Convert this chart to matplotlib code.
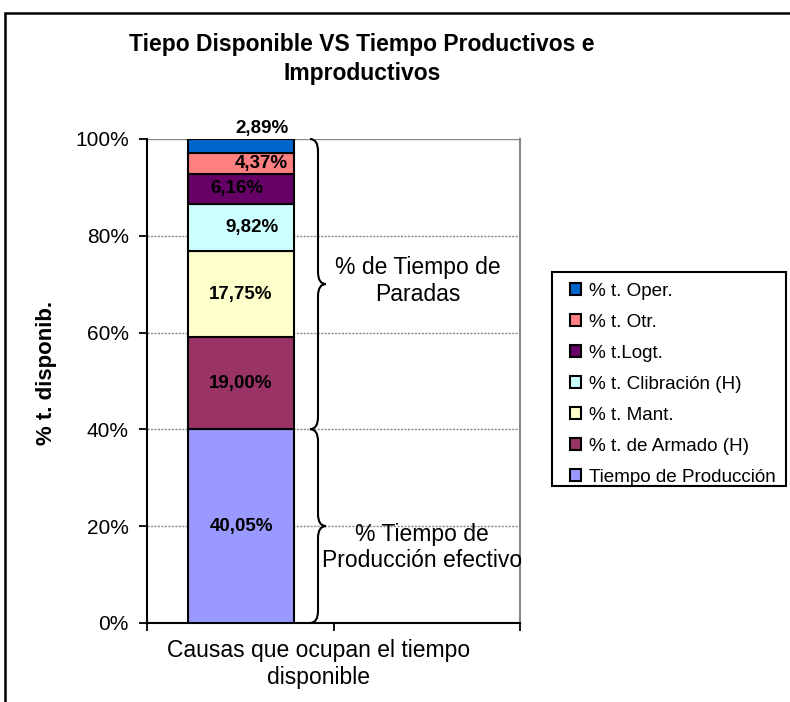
import matplotlib
matplotlib.use("Agg")
import matplotlib.pyplot as plt
from matplotlib.path import Path
from matplotlib.patches import PathPatch, Rectangle

plt.rcParams['font.family'] = ['Liberation Sans', 'DejaVu Sans']

# Datos (de abajo hacia arriba en la barra)
series = ['Tiempo de Producción', '% t. de Armado (H)', '% t. Mant.',
          '% t. Clibración (H)', '% t.Logt.', '% t. Otr.', '% t. Oper.']
valores = [40.05, 19.00, 17.75, 9.82, 6.16, 4.37, 2.89]
colores = ['#9999FF', '#993366', '#FFFFCC', '#CCFFFF', '#660066', '#FF8080', '#0066CC']
categoria = 'Causas que ocupan el tiempo\ndisponible'
y_ticks = [0, 20, 40, 60, 80, 100]

fig = plt.figure(figsize=(7.9, 7.02), dpi=100)
W, H = 790, 702

# marco exterior del gráfico
fig.patches.append(Rectangle((5 / W, -0.1), 1.2, 1 - 13 / H + 0.1, transform=fig.transFigure,
                             fill=False, edgecolor='black', linewidth=1.8))

ax = fig.add_axes([147 / W, 1 - 623 / H, (520 - 147) / W, (623 - 139) / H])

bar_x = (241 - 147) / 373
bar_w = 106 / 373
bottom = 0
handles = []
for nombre, v, c in zip(series, valores, colores):
    b = ax.bar(bar_x, v, width=bar_w, bottom=bottom, color=c, edgecolor='black',
               linewidth=1.5, label=nombre, zorder=3)
    handles.append(b)
    bottom += v

# etiquetas de datos
dx = [0, 0, 0, 0.03, -0.01, 0.055, 0.056]
bottom = 0
for i, v in enumerate(valores):
    txt = f"{v:.2f}".replace('.', ',') + '%'
    if i == len(valores) - 1:
        y = 100 + 2.2
    else:
        y = bottom + v / 2
    ax.text(bar_x + dx[i], y, txt, ha='center', va='center', fontsize=13.5,
            fontweight='bold', color='black', zorder=5, clip_on=False)
    bottom += v

ax.set_xlim(0, 1)
ax.set_ylim(0, 100)
ax.set_yticks(y_ticks)
ax.set_yticklabels([f"{t}%" for t in y_ticks], fontsize=15)
ax.set_xticks([0, 0.5, 1])
ax.set_xticklabels([])
ax.tick_params(axis='both', direction='out', length=6, width=1.3, color='black', pad=7)
for t in y_ticks[1:]:
    ax.axhline(t, color='#888888', linewidth=1,
               linestyle='-' if t == 100 else (0, (1.5, 1)), zorder=1)
ax.spines['left'].set_linewidth(1.5)
ax.spines['bottom'].set_linewidth(1.5)
ax.spines['right'].set_color('#888888')
ax.spines['right'].set_linewidth(1.5)
ax.spines['top'].set_visible(False)

ax.set_ylabel('% t. disponib.', fontsize=16, fontweight='bold')
ax.yaxis.set_label_coords((57 - 147) / 373, (623 - 373) / 484)
fig.text(319 / W, 1 - 664 / H, categoria, ha='center', va='center', fontsize=16.5,
         linespacing=1.25)

# llaves
def llave(ax, y0, y1, xa, xm, xb, r=2.5):
    ym = (y0 + y1) / 2
    verts = [(xa, y1), (xm, y1), (xm, y1 - r),
             (xm, ym + r), (xm, ym), (xb, ym),
             (xm, ym), (xm, ym - r),
             (xm, y0 + r), (xm, y0), (xa, y0)]
    codes = [Path.MOVETO, Path.CURVE3, Path.CURVE3,
             Path.LINETO, Path.CURVE3, Path.CURVE3,
             Path.CURVE3, Path.CURVE3,
             Path.LINETO, Path.CURVE3, Path.CURVE3]
    ax.add_patch(PathPatch(Path(verts, codes), fill=False, edgecolor='black',
                           linewidth=1.5, zorder=4, clip_on=False))

xa, xm, xb = (310 - 147) / 373, (318 - 147) / 373, (326 - 147) / 373
llave(ax, valores[0], 100, xa, xm, xb)
llave(ax, 0, valores[0], xa, xm, xb)

ax.text((418 - 147) / 373, 70.7, '% de Tiempo de\nParadas', ha='center', va='center',
        fontsize=16.5, linespacing=1.2, zorder=5)
ax.text((422 - 147) / 373, 15.6, '% Tiempo de\nProducción efectivo', ha='center',
        va='center', fontsize=16.5, linespacing=1.2, zorder=5)

fig.text(362 / W, 1 - 59 / H, 'Tiepo Disponible VS Tiempo Productivos e\nImproductivos',
         ha='center', va='center', fontsize=16.5, fontweight='bold', linespacing=1.3)

# leyenda
fig.patches.append(Rectangle((552 / W, 1 - 486 / H), (786 - 552) / W, (486 - 272) / H,
                             transform=fig.transFigure, fill=False, edgecolor='black',
                             linewidth=1.5))
fig.legend(handles[::-1], series[::-1], loc='upper left',
           bbox_to_anchor=(570 / W, 1 - 283 / H), frameon=False, fontsize=13.6,
           borderpad=0, borderaxespad=0, handlelength=0.6, handleheight=0.6,
           handletextpad=0.4, labelspacing=0.74)

fig.savefig('out.png', dpi=100)
